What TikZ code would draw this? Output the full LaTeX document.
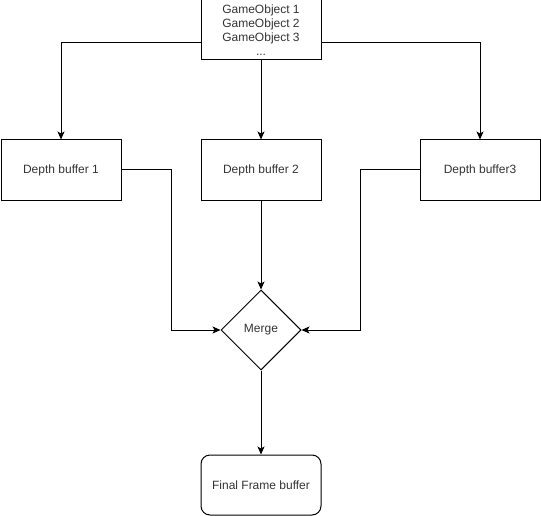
\documentclass[tikz,border=0pt]{standalone}
\usepackage{fontspec}
\setmainfont{Liberation Sans}
\usetikzlibrary{arrows.meta,shapes.geometric}
\begin{document}
\begin{tikzpicture}[x=1pt,y=-1pt,
  box/.style={draw,line width=1pt,minimum width=120pt,minimum height=60pt,inner sep=0pt,font=\fontsize{12}{14}\selectfont,text=black!80,align=center},
  rbox/.style={box,rounded corners=9pt},
  dia/.style={draw,line width=1pt,diamond,minimum width=80pt,minimum height=80pt,inner sep=0pt,font=\fontsize{12}{14}\selectfont,text=black!80},
  conn/.style={line width=1pt,-{Stealth[length=8pt,width=7pt,inset=2pt]}}]
\useasboundingbox (0,0) rectangle (541,516);
\node[box] (top) at (261,30) {GameObject 1\\GameObject 2\\GameObject 3\\...};
\node[box] (d1) at (61,170) {Depth buffer 1};
\node[box] (d2) at (261,170) {Depth buffer 2};
\node[box] (d3) at (480,170) {Depth buffer3};
\node[dia] (m) at (261,330) {Merge};
\node[rbox] (f) at (261,485) {Final Frame buffer};
\draw[conn] (top.west |- 0,43) -| (d1.north);
\draw[conn] (top.east |- 0,43) -| (d3.north);
\draw[conn] (top.south) -- (d2.north);
\draw[conn] (d1.east) -- (171,170) |- (m.west);
\draw[conn] (d3.west) -- (360,170) |- (m.east);
\draw[conn] (d2.south) -- (m.north);
\draw[conn] (m.south) -- (f.north);
\end{tikzpicture}
\end{document}
